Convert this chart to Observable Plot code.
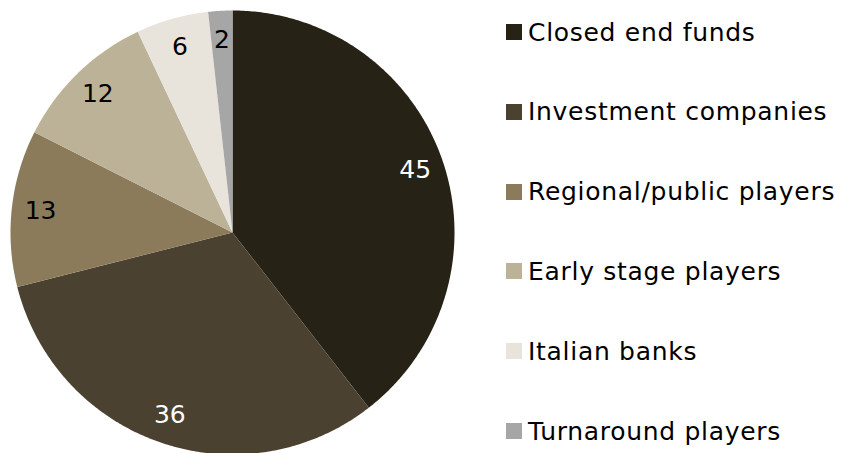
<!DOCTYPE html>
<html>
<head>
<meta charset="utf-8">
<script src="https://cdn.jsdelivr.net/npm/d3@7"></script>
<script src="https://cdn.jsdelivr.net/npm/@observablehq/plot@0.6"></script>
<style>
  html, body { margin: 0; padding: 0; background: #fff; }
  #wrap { position: relative; width: 841px; height: 453px; overflow: hidden; font-family: "DejaVu Sans", Verdana, sans-serif; }
  #wrap svg { position: absolute; left: 0; top: 0; }
  .leg { position: absolute; left: 506px; display: flex; align-items: center; font-size: 25px; letter-spacing: 0.7px; color: #000; white-space: nowrap; }
  .leg .sw { width: 16px; height: 16px; margin-right: 6px; flex: none; }
</style>
</head>
<body>
<div id="wrap"></div>
<script>
const categories = ["Closed end funds", "Investment companies", "Regional/public players", "Early stage players", "Italian banks", "Turnaround players"];
const values = [45, 36, 13, 12, 6, 2];
const colors = ["#262216", "#4a4130", "#8b7b5a", "#bcb298", "#e8e4dc", "#a6a6a6"];
const labelInk = ["white", "white", "black", "black", "black", "black"];

const arcs = d3.pie().sort(null)(values);
const pts = [];
const labels = [];
arcs.forEach((a, i) => {
  const name = categories[i];
  pts.push({x: 0, y: 0, name});
  const n = Math.max(2, Math.ceil((a.endAngle - a.startAngle) / 0.01));
  for (let k = 0; k <= n; k++) {
    const t = a.startAngle + (a.endAngle - a.startAngle) * k / n;
    pts.push({x: Math.sin(t), y: Math.cos(t), name});
  }
  const m = (a.startAngle + a.endAngle) / 2;
  const r = 0.87;
  labels.push({x: r * Math.sin(m), y: r * Math.cos(m), text: String(values[i]), ink: labelInk[i]});
});

const chart = Plot.plot({
  width: 841,
  height: 453,
  style: {fontFamily: '"DejaVu Sans", Verdana, sans-serif', background: "transparent"},
  x: {domain: [-1, 1], range: [10, 454], axis: null},
  y: {domain: [-1, 1], range: [454, 10], axis: null},
  color: {domain: categories, range: colors},
  marks: [
    Plot.line(pts, {x: "x", y: "y", z: "name", fill: "name", stroke: "none", curve: "linear-closed"}),
    Plot.text(labels, {filter: d => d.ink === "white", x: "x", y: "y", text: "text", fill: "white", fontSize: 25}),
    Plot.text(labels, {filter: d => d.ink === "black", x: "x", y: "y", text: "text", fill: "black", fontSize: 25})
  ]
});
const wrap = document.getElementById("wrap");
wrap.appendChild(chart);

categories.forEach((c, i) => {
  const item = document.createElement("div");
  item.className = "leg";
  item.style.top = (32 + i * 79.8 - 16) + "px";
  item.style.height = "32px";
  const sw = document.createElement("div");
  sw.className = "sw";
  sw.style.background = colors[i];
  const tx = document.createElement("span");
  tx.textContent = c;
  item.appendChild(sw);
  item.appendChild(tx);
  wrap.appendChild(item);
});
</script>
</body>
</html>
